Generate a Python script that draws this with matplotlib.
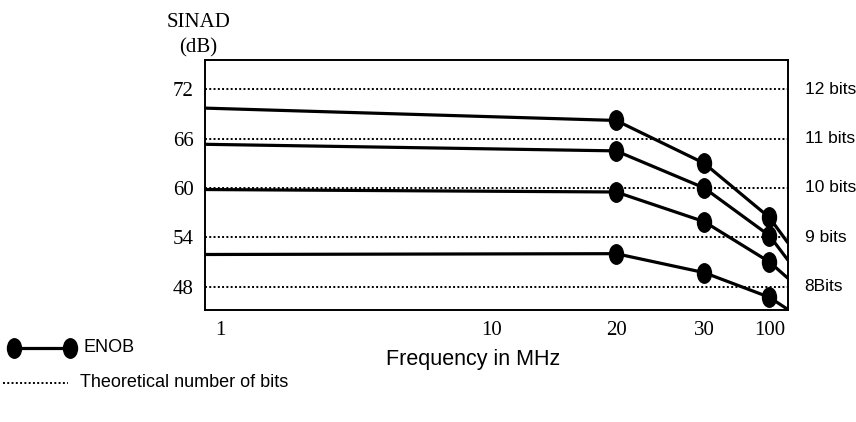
import matplotlib.pyplot as plt
from matplotlib.path import Path
from matplotlib.transforms import Affine2D
from matplotlib.lines import Line2D

# frequency categories (the axis is not to scale)
freq_labels = ["1", "10", "20", "30", "100"]
freq_pos = [2.6, 49.2, 70.5, 85.6, 96.8]

# ENOB curves: value at left edge, 20, 30, 100 MHz, value at right edge
enob_left = [69.7, 65.3, 59.8, 51.9]
enob_20 = [68.2, 64.5, 59.5, 52.0]
enob_30 = [63.0, 60.0, 55.9, 49.7]
enob_100 = [56.4, 54.2, 51.0, 46.7]
enob_right = [53.3, 51.2, 49.0, 45.2]

# theoretical SINAD per number of bits
sinad_ticks = [72, 66, 60, 54, 48]
bits_labels = ["12 bits", "11 bits", "10 bits", "9 bits", "8Bits"]

serif = ["Liberation Serif", "DejaVu Serif"]
sans = ["Liberation Sans", "DejaVu Sans"]

# tall ellipse marker
ellipse = Path.unit_circle().transformed(Affine2D().scale(0.72, 1.0))

fig = plt.figure(figsize=(8.56, 4.22), dpi=100)
ax = fig.add_axes([0.2395, 0.2654, 0.6811, 0.5924])
ax.set_xlim(0, 100)
ax.set_ylim(45.15, 75.55)

for y in sinad_ticks:
    ax.plot([0, 100], [y, y], linestyle=(0, (1, 1.2)), color="black", linewidth=1.4)

for i in range(len(enob_left)):
    xs = [0, freq_pos[2], freq_pos[3], freq_pos[4], 100]
    ys = [enob_left[i], enob_20[i], enob_30[i], enob_100[i], enob_right[i]]
    ax.plot(xs, ys, color="black", linewidth=2.3, solid_capstyle="butt")
    ax.plot(xs[1:4], ys[1:4], linestyle="none", marker=ellipse, markersize=14,
            color="black")

ax.set_xticks(freq_pos)
ax.set_xticklabels(freq_labels, family=serif, fontsize=15)
ax.set_yticks(sinad_ticks)
ax.set_yticklabels([str(v) for v in sinad_ticks], family=serif, fontsize=15)
ax.tick_params(length=0, pad=8)
for s in ax.spines.values():
    s.set_linewidth(1.4)

for y, lab in zip(sinad_ticks, bits_labels):
    ax.annotate(lab, xy=(1, y), xycoords=("axes fraction", "data"),
                xytext=(12, 0), textcoords="offset points", va="center",
                ha="left", family=sans, fontsize=12.5)

fig.text(0.232, 0.946, "SINAD", family=serif, fontsize=15, ha="center", va="center")
fig.text(0.232, 0.886, "(dB)", family=serif, fontsize=15, ha="center", va="center")
fig.text(0.553, 0.147, "Frequency in MHz", family=sans, fontsize=15.5,
         ha="center", va="center")

# legend drawn below the plot
fig.add_artist(Line2D([0.016, 0.082], [0.176, 0.176], color="black", linewidth=2.3,
                      marker=ellipse, markersize=14, markevery=[0, 1]))
fig.text(0.097, 0.176, "ENOB", family=sans, fontsize=13, va="center")
fig.add_artist(Line2D([0.003, 0.080], [0.093, 0.093], color="black", linewidth=1.4,
                      linestyle=(0, (1, 1.2))))
fig.text(0.094, 0.093, "Theoretical number of bits", family=sans, fontsize=13,
         va="center")

fig.savefig("out.png", dpi=100)
